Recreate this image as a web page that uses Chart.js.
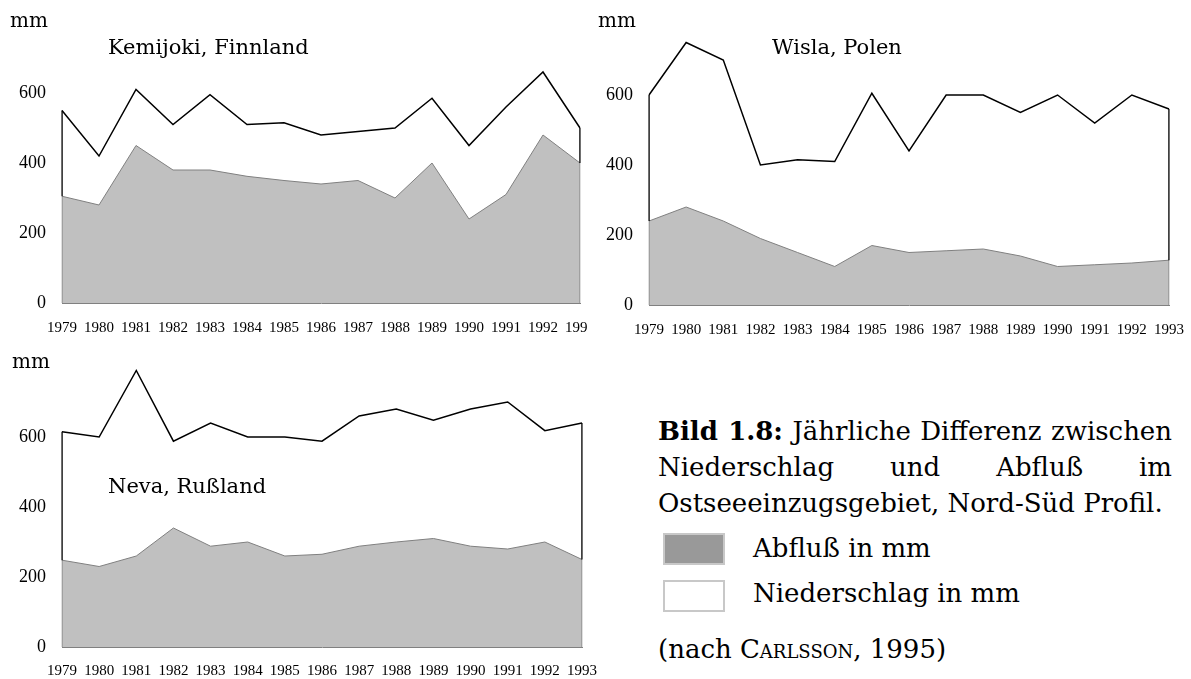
<!DOCTYPE html>
<html>
<head>
<meta charset="utf-8">
<script src="https://cdn.jsdelivr.net/npm/chart.js@4.4.1/dist/chart.umd.min.js"></script>
<style>
  body { margin: 0; width: 1191px; height: 679px; position: relative; overflow: hidden; background: #fff; color: #000; font-family: "DejaVu Serif", serif; }
  .box { position: absolute; overflow: hidden; }
  .lbl { position: absolute; white-space: nowrap; line-height: 1; }
  .mm { font-size: 20px; }
  .ttl { font-size: 21px; }
  #caption { position: absolute; left: 658px; top: 413px; width: 514px; font-size: 26px; line-height: 36px; }
  #caption .j { text-align: justify; text-align-last: justify; }
  .txt { font-size: 26px; }
  .leg { position: absolute; left: 663px; width: 58px; height: 28px; border: 2px solid #c8c8c8; }
</style>
</head>
<body>
<div class="box" style="left:0;top:0;width:588px;height:340px"><canvas id="c1" width="600" height="340"></canvas></div>
<div class="box" style="left:590px;top:0;width:601px;height:340px"><canvas id="c2" width="601" height="340"></canvas></div>
<div class="box" style="left:0;top:340px;width:600px;height:339px"><canvas id="c3" width="600" height="339"></canvas></div>

<div class="lbl mm" style="left:10px;top:10px">mm</div>
<div class="lbl ttl" style="left:108px;top:37px">Kemijoki, Finnland</div>
<div class="lbl mm" style="left:598px;top:10px">mm</div>
<div class="lbl ttl" style="left:772px;top:37px">Wisla, Polen</div>
<div class="lbl mm" style="left:12px;top:351px">mm</div>
<div class="lbl ttl" style="left:108px;top:476px">Neva, Rußland</div>

<div id="caption">
  <div class="j"><b>Bild 1.8:</b> Jährliche Differenz zwischen</div>
  <div class="j">Niederschlag und Abfluß im</div>
  <div>Ostseeeinzugsgebiet, Nord-Süd Profil.</div>
</div>
<div class="leg" style="top:533px;background:#999999"></div>
<div class="lbl txt" style="left:753px;top:535px">Abfluß in mm</div>
<div class="leg" style="top:580px;background:#fff"></div>
<div class="lbl txt" style="left:753px;top:580px">Niederschlag in mm</div>
<div class="lbl txt" style="left:658px;top:636px">(nach <span style="font-variant:small-caps">Carlsson</span>, 1995)</div>

<script>
const years = ['1979', '1980', '1981', '1982', '1983', '1984', '1985', '1986', '1987', '1988', '1989', '1990', '1991', '1992', '1993'];
const yTicks = [0, 200, 400, 600];

// Kemijoki, Finnland
const kemiNied = [550, 420, 610, 510, 595, 510, 515, 480, 490, 500, 585, 450, 560, 660, 500];
const kemiAbfl = [305, 280, 450, 380, 380, 362, 350, 340, 350, 300, 400, 240, 310, 480, 400];

// Wisla, Polen
const wislaNied = [600, 750, 700, 400, 415, 410, 605, 440, 600, 600, 550, 600, 520, 600, 560];
const wislaAbfl = [240, 280, 240, 190, 150, 110, 170, 150, 155, 160, 140, 110, 115, 120, 128];

// Neva, Rußland
const nevaNied = [615, 600, 790, 588, 640, 600, 600, 588, 660, 680, 648, 680, 700, 618, 640];
const nevaAbfl = [248, 230, 260, 340, 288, 300, 260, 265, 288, 300, 310, 288, 280, 300, 250];

const tickFont = { family: 'Liberation Serif', size: 15 };
const yFont = { family: 'Liberation Serif', size: 18 };

// vertical edge of an area, from lo to hi at one category
function edge(x, lo, hi, color, width) {
  return {
    data: [{ x, y: lo }, { x, y: hi }],
    borderColor: color,
    borderWidth: width,
    pointRadius: 0,
    fill: false,
    order: 0,
  };
}

function makeChart(id, nied, abfl, box) {
  const first = years[0];
  const last = years[years.length - 1];
  const n = nied.length - 1;
  return new Chart(document.getElementById(id), {
    type: 'line',
    data: {
      labels: years,
      datasets: [
        { label: 'Niederschlag in mm', data: nied, borderColor: '#000', borderWidth: 1.5, fill: false, order: 1 },
        { label: 'Abfluß in mm', data: abfl, borderColor: '#808080', borderWidth: 1, backgroundColor: '#c0c0c0', fill: 'origin', order: 2 },
        edge(first, abfl[0], nied[0], '#000', 1.5),
        edge(last, abfl[n], nied[n], '#000', 1.5),
        edge(first, 0, abfl[0], '#808080', 1),
        edge(last, 0, abfl[n], '#808080', 1),
      ],
    },
    options: {
      responsive: false,
      animation: false,
      layout: { padding: { top: box.top, right: box.right, left: 0, bottom: 0 } },
      elements: { point: { radius: 0 }, line: { tension: 0 } },
      plugins: { legend: { display: false }, tooltip: { enabled: false } },
      scales: {
        x: {
          type: 'category',
          offset: false,
          grid: { display: false, drawTicks: false },
          border: { display: true, color: '#808080', width: 1 },
          ticks: { autoSkip: false, maxRotation: 0, padding: box.xPad, color: '#000', font: tickFont },
          afterFit: s => {
            s.height = box.xHeight;
            // let the outer labels run past the plot edge, as in the print
            s.paddingLeft = 0;
            s.paddingRight = 0;
          },
        },
        y: {
          min: 0,
          max: 800,
          grid: { display: false, drawTicks: false },
          border: { display: false },
          afterBuildTicks: s => { s.ticks = yTicks.map(v => ({ value: v })); },
          ticks: { padding: 16, color: '#000', font: yFont },
          afterFit: s => {
            s.width = box.yWidth;
            s.paddingTop = 0;
            s.paddingBottom = 0;
          },
        },
      },
    },
  });
}

makeChart('c1', kemiNied, kemiAbfl, { yWidth: 62, xHeight: 37, top: 23, right: 20, xPad: 16 });
makeChart('c2', wislaNied, wislaAbfl, { yWidth: 59, xHeight: 35, top: 25, right: 22, xPad: 16 });
makeChart('c3', nevaNied, nevaAbfl, { yWidth: 62, xHeight: 32, top: 27, right: 18, xPad: 15 });
</script>
</body>
</html>
